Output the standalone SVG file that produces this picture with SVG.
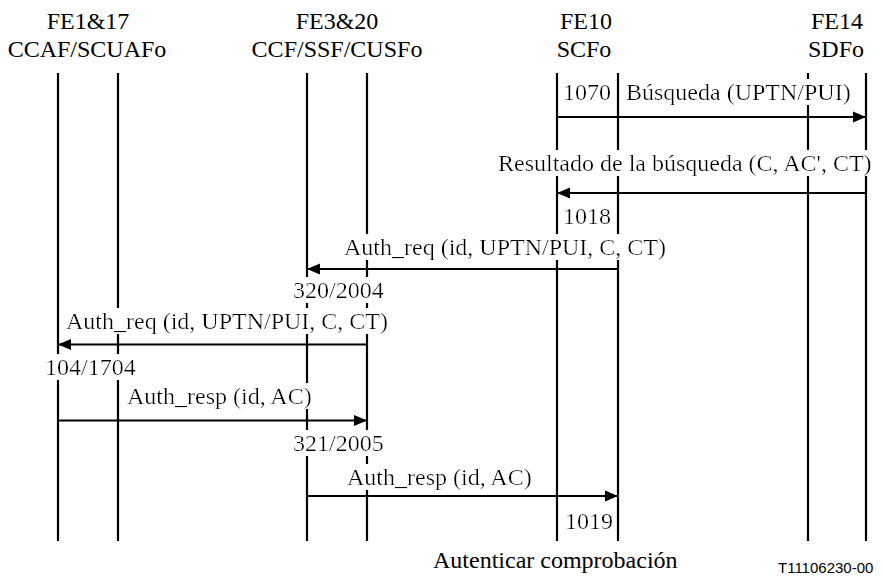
<svg xmlns="http://www.w3.org/2000/svg" width="883" height="578" viewBox="0 0 883 578">
<style>
.t{font-family:"Liberation Serif","Times New Roman",serif;font-size:24px;fill:#000}
.h{text-anchor:middle}
.bg{filter:url(#bg)}
.ll{stroke:#000;stroke-width:2.2;fill:none}
.msg{stroke:#000;stroke-width:2.2;fill:none;marker-end:url(#ah)}
.code{font-family:"Liberation Sans",Arial,sans-serif;font-size:15px;fill:#000}
</style>
<defs>
<filter id="bg" x="0" y="0" width="1" height="1"><feFlood flood-color="#fff"/><feComposite in="SourceGraphic"/></filter>
<marker id="ah" markerUnits="userSpaceOnUse" markerWidth="14" markerHeight="12" refX="13" refY="6" orient="auto"><path d="M0,0.5 L13,6 L0,11.5 Z" fill="#000"/></marker>
</defs>
<rect width="883" height="578" fill="#fff"/>
<g id="lifelines">
<g id="fe1-17"><text class="t h" x="88" y="29">FE1&amp;17</text><text class="t h" x="87" y="57">CCAF/SCUAFo</text><line class="ll" x1="58" y1="73" x2="58" y2="541"/><line class="ll" x1="118" y1="73" x2="118" y2="541"/></g>
<g id="fe3-20"><text class="t h" x="337" y="29">FE3&amp;20</text><text class="t h" x="337" y="57">CCF/SSF/CUSFo</text><line class="ll" x1="307" y1="73" x2="307" y2="541"/><line class="ll" x1="367" y1="73" x2="367" y2="541"/></g>
<g id="fe10"><text class="t h" x="586" y="29">FE10</text><text class="t h" x="584" y="57">SCFo</text><line class="ll" x1="557" y1="73" x2="557" y2="541"/><line class="ll" x1="618" y1="73" x2="618" y2="541"/></g>
<g id="fe14"><text class="t h" x="837" y="29">FE14</text><text class="t h" x="836" y="57">SDFo</text><line class="ll" x1="808" y1="73" x2="808" y2="541"/><line class="ll" x1="866" y1="73" x2="866" y2="541"/></g>
</g>
<g id="connectors">
<line class="msg" x1="557" y1="117" x2="866" y2="117"/>
<line class="msg" x1="866" y1="193" x2="557" y2="193"/>
<line class="msg" x1="618" y1="269" x2="307" y2="269"/>
<line class="msg" x1="367" y1="344.5" x2="58" y2="344.5"/>
<line class="msg" x1="58" y1="420.5" x2="367" y2="420.5"/>
<line class="msg" x1="307" y1="496" x2="618" y2="496"/>
</g>
<g id="labels">
<text class="t bg" x="563" y="100">1070</text>
<text class="t bg" x="626" y="100">Búsqueda (UPTN/PUI)</text>
<text class="t bg" x="498" y="171">Resultado de la búsqueda (C, AC', CT)</text>
<text class="t bg" x="563" y="224">1018</text>
<text class="t bg" x="344" y="255">Auth_req (id, UPTN/PUI, C, CT)</text>
<text class="t bg" x="293" y="298">320/2004</text>
<text class="t bg" x="66" y="329">Auth_req (id, UPTN/PUI, C, CT)</text>
<text class="t bg" x="45" y="375">104/1704</text>
<text class="t bg" x="127" y="404">Auth_resp (id, AC)</text>
<text class="t bg" x="293" y="451">321/2005</text>
<text class="t bg" x="347" y="485">Auth_resp (id, AC)</text>
<text class="t bg" x="565" y="529">1019</text>
<text class="t" x="433" y="568">Autenticar comprobación</text>
<text class="code" x="778" y="573">T11106230-00</text>
</g>
</svg>
